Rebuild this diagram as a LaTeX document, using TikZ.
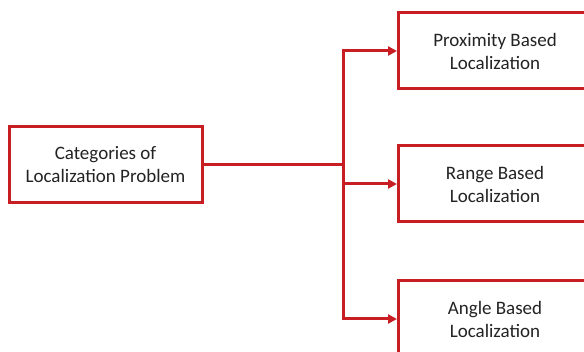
\documentclass[tikz,border=0pt]{standalone}
\usepackage{fontspec}
\setmainfont{Carlito}
\usetikzlibrary{arrows.meta}
\definecolor{boxred}{RGB}{200,30,35}
\definecolor{txt}{RGB}{35,35,35}
\begin{document}
\begin{tikzpicture}[x=1pt,y=-1pt,
  catbox/.style={draw=boxred,line width=3pt,fill=white,align=center,text=txt,
    font=\fontsize{19}{23}\selectfont,inner sep=0pt,
    minimum width=193pt,minimum height=76pt},
  link/.style={draw=boxred,line width=3pt},
  arrowlink/.style={link,-{Triangle[length=9pt,width=9pt]}}]
\useasboundingbox (0,0) rectangle (584,352);
\clip (0,0) rectangle (584,352);

% category boxes
\node[catbox] (root) at (105.5,165) {Categories of\\Localization Problem};
\node[catbox] (prox) at (495,51) {Proximity Based\\Localization};
\node[catbox] (range) at (495,184) {Range Based\\Localization};
\node[catbox] (angle) at (495,319) {Angle Based\\Localization};

% branching point of the tree
\coordinate (trunk) at (343,165);

% connectors
\draw[link] (root.east) -- (trunk);
\draw[arrowlink] (trunk) |- (prox.west);
\draw[arrowlink] (trunk) |- (angle.west);
\draw[arrowlink] (trunk |- range.west) -- (range.west);
\end{tikzpicture}
\end{document}
